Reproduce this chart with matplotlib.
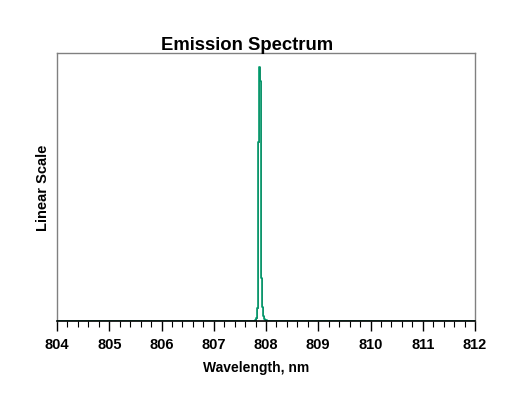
import matplotlib
matplotlib.use("Agg")
import matplotlib.pyplot as plt
from matplotlib.ticker import MultipleLocator

# Data
wavelength = [804.0, 807.78, 807.80, 807.82, 807.84, 807.86, 807.88, 807.90,
              807.92, 807.94, 807.96, 807.98, 808.00, 808.02, 808.04, 812.0]
intensity = [0.0, 0.0, 0.004, 0.012, 0.05, 0.668, 0.948, 0.896,
             0.16, 0.052, 0.02, 0.008, 0.003, 0.001, 0.0, 0.0]
x_ticks = [804, 805, 806, 807, 808, 809, 810, 811, 812]

plt.rcParams['font.family'] = ['Liberation Sans', 'DejaVu Sans']

fig = plt.figure(figsize=(5.29, 3.99), dpi=100)
ax = fig.add_axes([57/529, 1-321/399, (475-57)/529, (321-53)/399])

ax.plot(wavelength, intensity, drawstyle='steps-mid', color='#555555', lw=0.6, zorder=2)
ax.plot(wavelength, intensity, drawstyle='steps-mid', color='#00996b', lw=1.2, zorder=3)

ax.set_xlim(804, 812)
ax.set_ylim(0, 1.0)
ax.set_xticks(x_ticks)
ax.set_xticklabels([str(t) for t in x_ticks], fontsize=10.5, fontweight='bold')
ax.xaxis.set_minor_locator(MultipleLocator(0.2))
ax.tick_params(axis='x', which='major', direction='out', length=7, width=1, pad=5, color='black')
ax.tick_params(axis='x', which='minor', direction='out', length=4, width=0.8, color='black')
ax.set_yticks([])

for s in ['top', 'right', 'left']:
    ax.spines[s].set_color('#808080')
    ax.spines[s].set_linewidth(1.0)
ax.spines['bottom'].set_color('black')
ax.spines['bottom'].set_linewidth(1.2)
ax.spines['bottom'].set_zorder(4)

fig.text(256/529, 1-368/399, 'Wavelength, nm', fontsize=10, fontweight='bold',
         ha='center', va='center')
fig.text(43/529, 1-188/399, 'Linear Scale', fontsize=10.5, fontweight='bold',
         ha='center', va='center', rotation=90)
fig.text(247/529, 1-45/399, 'Emission Spectrum', fontsize=13.3, fontweight='bold',
         ha='center', va='center')

fig.savefig('out.png', dpi=100)
